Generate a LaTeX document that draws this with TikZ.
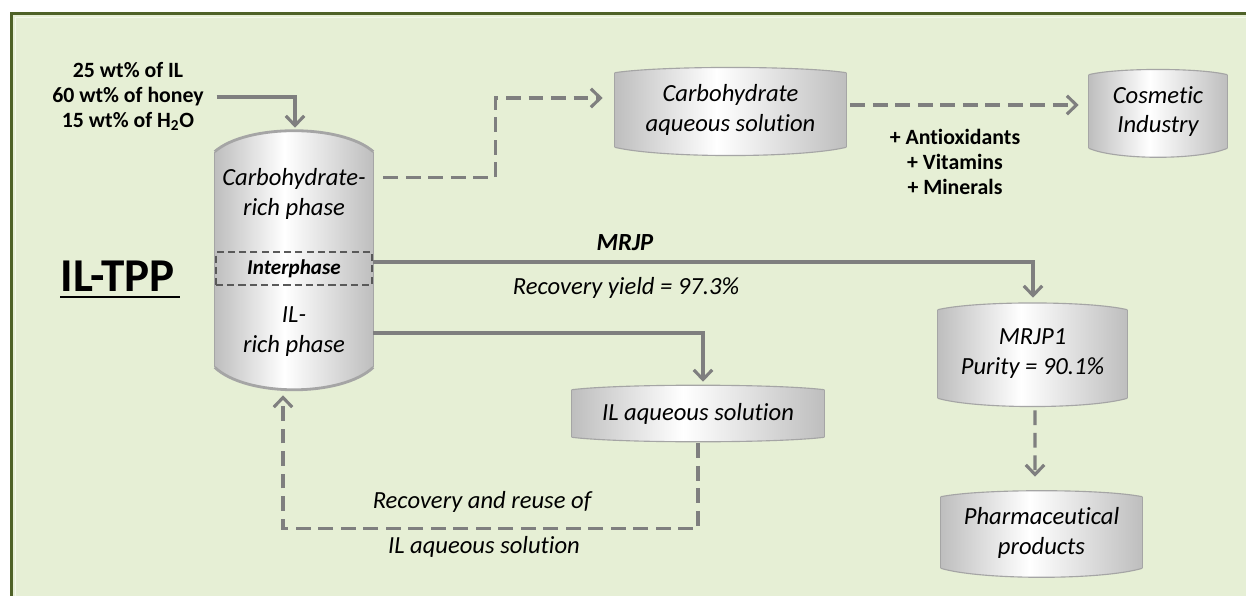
\documentclass[tikz,border=0pt]{standalone}
\usepackage{fontspec}
\setmainfont[Ligatures=NoCommon]{Carlito}
\usetikzlibrary{positioning,calc,arrows.meta,backgrounds}

\definecolor{bggreen}{RGB}{230,239,213}
\definecolor{framegreen}{RGB}{79,98,40}
\definecolor{flowgray}{RGB}{127,127,127}
\definecolor{tankside}{RGB}{190,190,190}
\definecolor{tankedge}{RGB}{165,165,165}
\definecolor{boxgray}{RGB}{89,89,89}

\pgfdeclarehorizontalshading{tankshade}{100bp}{color(0bp)=(tankside); color(25bp)=(tankside); color(47bp)=(white); color(75bp)=(tankside); color(100bp)=(tankside)}

% barrel drawn round a named node: [edge width]{node}{top bulge}{bottom bulge}
\newcommand\drawtank[4][0.8pt]{%
  \path[shading=tankshade] (#2.north west)
    .. controls ($(#2.north west)!0.2!(#2.north east)+(0,-#3)$) and ($(#2.north west)!0.8!(#2.north east)+(0,-#3)$) .. (#2.north east)
    -- (#2.south east)
    .. controls ($(#2.south west)!0.8!(#2.south east)+(0,#4)$) and ($(#2.south west)!0.2!(#2.south east)+(0,#4)$) .. (#2.south west) -- cycle;
  \draw[tankedge, line width=0.5pt] (#2.north west) -- (#2.south west) (#2.north east) -- (#2.south east);
  \draw[tankedge, line width=#1] (#2.north west)
    .. controls ($(#2.north west)!0.2!(#2.north east)+(0,-#3)$) and ($(#2.north west)!0.8!(#2.north east)+(0,-#3)$) .. (#2.north east);
  \draw[tankedge, line width=#1] (#2.south east)
    .. controls ($(#2.south west)!0.8!(#2.south east)+(0,#4)$) and ($(#2.south west)!0.2!(#2.south east)+(0,#4)$) .. (#2.south west);
}

\begin{document}
\begin{tikzpicture}
  [x=0.025cm, y=-0.025cm,
   lbl/.style ={align=center, font=\fontsize{17.5}{21.3}\selectfont\itshape},
   tank/.style ={lbl, rectangle, inner sep=0pt},
   boldlbl/.style ={align=center, font=\fontsize{15.5}{17.8}\selectfont\bfseries},
   interbox/.style ={rectangle, draw=boxgray, line width=1.2pt, dash pattern=on 5pt off 3pt,
     minimum width=3.9cm, minimum height=0.825cm, inner sep=0pt,
     font=\fontsize{15}{18}\selectfont\bfseries\itshape},
   title/.style ={inner sep=0pt, font=\fontsize{33.5}{40}\selectfont\bfseries},
   flow/.style ={draw=flowgray, line width=2.2pt, -{Straight Barb[length=2.4mm,width=4.6mm]}},
   flowdash/.style ={flow, dash pattern=on 10.5pt off 5.5pt}]
  \useasboundingbox (0,0) rectangle (1246,596);

  % frame
  \begin{scope}[on background layer]
    \draw[draw=framegreen, line width=2.1pt, fill=bggreen] (11.5,13.5) rectangle (1262,612);
    \draw[white!55!bggreen, line width=1pt] (15.5,17.5) rectangle (1262,612);
  \end{scope}

  % vessel and phases
  \node[tank, minimum width=3.95cm, minimum height=5.375cm] (main) at (294,259.5) {};
  \node[lbl] (carbphase) at (294,194) {Carbohydrate-\\rich phase};
  \node[interbox] (inter) at (294,268.5) {Interphase};
  \node[lbl] (ilphase) at (294,332) {IL-\\rich phase};

  % products
  \node[tank, minimum width=5.775cm, minimum height=1.85cm] (carbaq) at (730.5,110) {Carbohydrate\\aqueous solution};
  \node[tank, minimum width=3.45cm, minimum height=1.825cm] (cosm) at (1158,111.5) {Cosmetic\\Industry};
  \node[tank, minimum width=4.725cm, minimum height=2.2cm] (mrjp) at (1032.5,354) {MRJP1\\Purity = 90.1\%};
  \node[tank, minimum width=5.025cm, minimum height=1.775cm] (pharma) at (1041.5,532.5) {Pharmaceutical\\products};
  \node[tank, minimum width=6.3cm, minimum height=1.175cm] (ilaq) at (698,413.5) {IL aqueous solution};

  \begin{scope}[on background layer]
    \drawtank[2pt]{main}{28}{30}
    \drawtank{carbaq}{7}{11}
    \drawtank{cosm}{7}{12}
    \drawtank{mrjp}{9}{11}
    \drawtank{pharma}{8}{12}
    \drawtank{ilaq}{6}{6}
  \end{scope}

  % labels
  \node[title] (tpp) at (117.5,276.5) {IL-TPP};
  \draw[line width=2pt] ($(tpp.south west)+(0,5)$) -- ($(tpp.south east)+(5,5)$);
  \node[boldlbl] (mix) at (128,96) {25 wt\% of IL\\60 wt\% of honey\\15 wt\% of H\textsubscript{2}O};
  \node[boldlbl] (additives) at (955,162) {+ Antioxidants\\+ Vitamins\\+ Minerals};
  \node[lbl, font=\fontsize{17.5}{21.3}\selectfont\bfseries\itshape] (mrjplbl) at (625,243) {MRJP};
  \node[lbl] (yield) at (626,288) {Recovery yield = 97.3\%};
  \node[lbl] (reuse) at (482,502) {Recovery and reuse of};
  \node[lbl] (reusesol) at (484,547) {IL aqueous solution};

  % streams
  \draw[flow] ($(mix.east)+(8,1)$) -| ($(main.north)+(1,-24)$);
  \draw[flowdash] ($(main.north east)+(10,26)$) -- ++(112,0) |- ($(carbaq.west)+(-12,-12)$);
  \draw[flowdash] ($(carbaq.east)+(4,-5)$) -- ($(cosm.west)+(-10,-6.5)$);
  \draw[flow] ($(inter.east)+(0,-6.5)$) -| ($(mrjp.north)+(0.5,-12)$);
  \draw[flow] ($(main.east)+(0,73.5)$) -| ($(ilaq.north)+(5,-8)$);
  \draw[flowdash] ($(ilaq.south)+(0,6)$) -- ++(0,85) -| ($(main.south)+(-11,28)$);
  \draw[flowdash] ($(mrjp.south)+(2.5,12)$) -- ($(pharma.north)+(-6.5,-20)$);
\end{tikzpicture}
\end{document}
